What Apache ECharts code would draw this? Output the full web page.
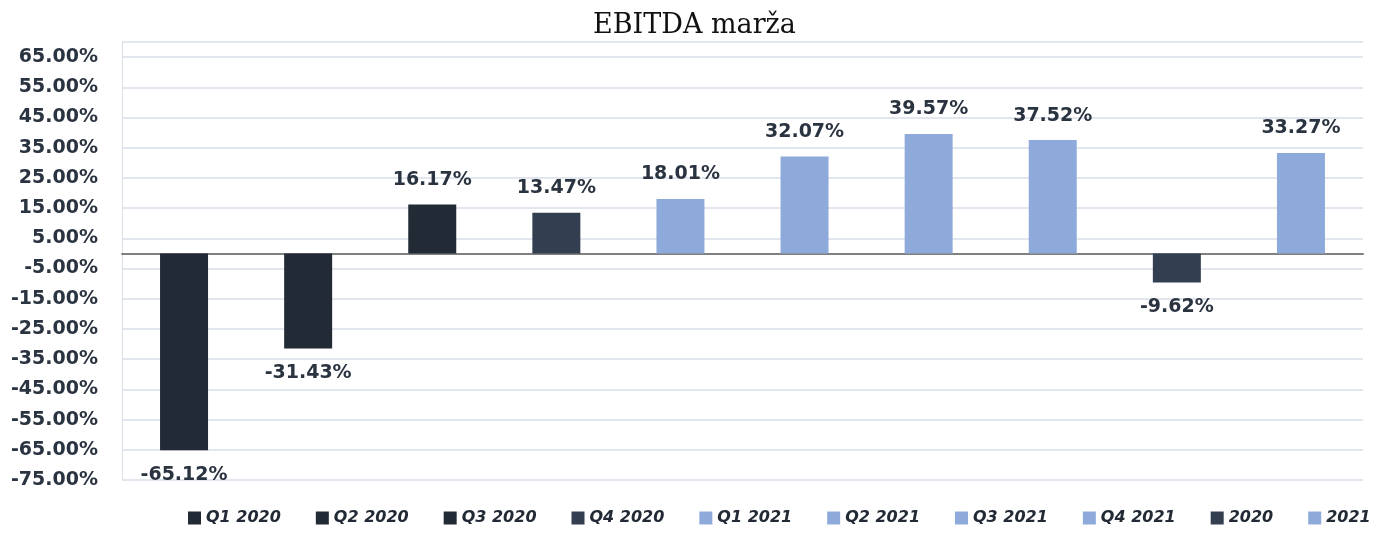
<!DOCTYPE html>
<html>
<head>
<meta charset="utf-8">
<title>EBITDA marža</title>
<script src="https://cdn.jsdelivr.net/npm/echarts@6/dist/echarts.min.js"></script>
<style>
  html, body { margin: 0; padding: 0; background: #fff; }
  #chart { width: 1389px; height: 553px; }
</style>
</head>
<body>
<div id="chart"></div>
<script>
// podaci
const categories = ['Q1 2020', 'Q2 2020', 'Q3 2020', 'Q4 2020', 'Q1 2021', 'Q2 2021', 'Q3 2021', 'Q4 2021', '2020', '2021']
const margins = [-65.12, -31.43, 16.17, 13.47, 18.01, 32.07, 39.57, 37.52, -9.62, 33.27]
const barColors = ['#222a35', '#222a35', '#222a35', '#333f50', '#8eaadb', '#8eaadb', '#8eaadb', '#8eaadb', '#333f50', '#8eaadb']

const labelFont = 'DejaVu Sans'
const textColor = '#2a3340'

// jedna serija po kategoriji, da legenda ima svoj kvadratić
const series = categories.map((name, i) => ({
  name: name,
  type: 'bar',
  stack: 'all',
  barWidth: 48,
  itemStyle: { color: barColors[i] },
  data: categories.map((c, j) => {
    if (j !== i) return null
    const v = margins[i]
    return {
      value: v,
      label: {
        show: true,
        position: v < 0 ? 'bottom' : 'top',
        distance: 15,
        formatter: v.toFixed(2) + '%',
        fontFamily: labelFont,
        fontWeight: 'bold',
        fontSize: 19,
        color: textColor
      }
    }
  })
}))

const chart = echarts.init(document.getElementById('chart'))

chart.setOption({
  animation: false,
  title: {
    text: 'EBITDA marža',
    left: 'center',
    top: 7,
    textStyle: {
      fontFamily: 'DejaVu Serif',
      fontWeight: 'normal',
      fontSize: 27,
      color: '#111'
    }
  },
  legend: {
    bottom: 22,
    left: 183,
    itemWidth: 13,
    itemHeight: 13,
    itemGap: 35,
    icon: 'rect',
    textStyle: {
      fontFamily: labelFont,
      fontStyle: 'italic',
      fontWeight: 'bold',
      fontSize: 16,
      color: '#222a35',
      padding: [8, 0, 0, 0]
    },
    data: categories
  },
  grid: {
    left: 122,
    right: 26,
    top: 42,
    bottom: 73
  },
  xAxis: {
    type: 'category',
    data: categories,
    axisLine: { onZero: true, lineStyle: { color: '#808080', width: 2 } },
    axisTick: { show: false },
    axisLabel: { show: false },
    splitLine: { show: false }
  },
  yAxis: {
    type: 'value',
    min: -75,
    max: 70,
    interval: 10,
    axisLine: { show: true, lineStyle: { color: '#d9dee8' } },
    axisTick: { show: false },
    splitLine: { lineStyle: { color: '#d9dee8', width: 1.5 } },
    axisLabel: {
      margin: 24,
      fontFamily: labelFont,
      fontWeight: 'bold',
      fontSize: 19,
      color: textColor,
      formatter: (v) => (v > 65 ? '' : v.toFixed(2) + '%')
    }
  },
  series: series
})
</script>
</body>
</html>
